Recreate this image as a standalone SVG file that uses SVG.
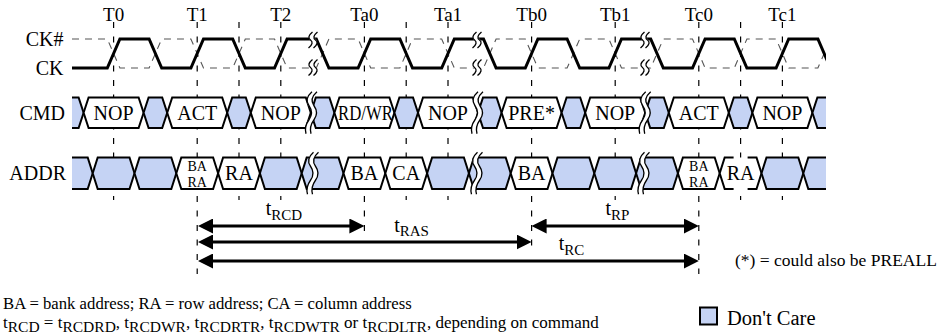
<svg xmlns="http://www.w3.org/2000/svg" xmlns:xlink="http://www.w3.org/1999/xlink" width="941" height="333" viewBox="0 0 941 333">
<style>
text{font-family:"Liberation Serif","Times New Roman",serif;fill:#000}
.lbl{font-size:20px;text-anchor:end}
.tk{font-size:19px;text-anchor:middle}
.bt{font-size:20px;text-anchor:middle}
.st{font-size:14px;text-anchor:middle}
.dc{fill:#c5d3f4;stroke:#000;stroke-width:2}
.vd{fill:#fff;stroke:#000;stroke-width:2}
.grid{stroke:#000;stroke-width:1.2;stroke-dasharray:6 8.5;fill:none}
.bw{fill:none;stroke:#fff;stroke-width:5}
.bk{fill:none;stroke:#000;stroke-width:1.3}
.arr{stroke:#000;stroke-width:3;fill:none;marker-start:url(#ah);marker-end:url(#ah)}
.tl{font-size:20px;text-anchor:middle}
.note{font-size:16.7px}
</style>
<defs>
<clipPath id="clk"><rect x="72" y="0" width="754" height="100"/></clipPath>
<marker id="ah" viewBox="0 0 15 15" refX="7" refY="7.5" markerWidth="15" markerHeight="15" markerUnits="userSpaceOnUse" orient="auto-start-reverse"><path d="M0,0 L15,7.5 L0,15 Z" fill="#000"/></marker>
<path id="wl" d="M3,-21 Q-5,-14 0,-7 T0,7 T-3,21"/>
<path id="ws" d="M2,-8 Q-4,-3 0,0 T-2,8"/>
</defs>

<g id="gridlines">
<line class="grid" x1="113.6" y1="22" x2="113.6" y2="200"/>
<line class="grid" x1="197.2" y1="22" x2="197.2" y2="274"/>
<line class="grid" x1="239" y1="22" x2="239" y2="200"/>
<line class="grid" x1="280.8" y1="22" x2="280.8" y2="200"/>
<line class="grid" x1="364.4" y1="22" x2="364.4" y2="236"/>
<line class="grid" x1="406.2" y1="22" x2="406.2" y2="200"/>
<line class="grid" x1="448" y1="22" x2="448" y2="200"/>
<line class="grid" x1="531.6" y1="22" x2="531.6" y2="254"/>
<line class="grid" x1="615.2" y1="22" x2="615.2" y2="200"/>
<line class="grid" x1="698.8" y1="22" x2="698.8" y2="274"/>
<line class="grid" x1="740.6" y1="22" x2="740.6" y2="200"/>
<line class="grid" x1="782.4" y1="22" x2="782.4" y2="200"/>
</g>

<g id="ticks">
<text class="tk" x="113.6" y="21">T0</text>
<text class="tk" x="197.2" y="21">T1</text>
<text class="tk" x="280.8" y="21">T2</text>
<text class="tk" x="364.4" y="21">Ta0</text>
<text class="tk" x="448" y="21">Ta1</text>
<text class="tk" x="531.6" y="21">Tb0</text>
<text class="tk" x="615.2" y="21">Tb1</text>
<text class="tk" x="698.8" y="21">Tc0</text>
<text class="tk" x="782.4" y="21">Tc1</text>
</g>

<g id="labels">
<text class="lbl" x="63.5" y="46">CK#</text>
<text class="lbl" x="63.5" y="75">CK</text>
<text class="lbl" x="65" y="120">CMD</text>
<text class="lbl" x="66" y="180">ADDR</text>
</g>

<g id="clock" clip-path="url(#clk)">
<path d="M72,39 L107.3,39 L119.9,68 L149.1,68 L161.7,39 L190.9,39 L203.5,68 L232.7,68 L245.3,39 L274.5,39 L287.1,68 L316.3,68 L328.9,39 L358.1,39 L370.7,68 L399.9,68 L412.5,39 L441.7,39 L454.3,68 L483.5,68 L496.1,39 L525.3,39 L537.9,68 L567.1,68 L579.7,39 L608.9,39 L621.5,68 L650.7,68 L663.3,39 L692.5,39 L705.1,68 L734.3,68 L746.9,39 L776.1,39 L788.7,68 L817.9,68 L830.5,39" fill="none" stroke="#555" stroke-width="1.1" stroke-dasharray="7 6"/>
<path d="M72,68 L107.3,68 L119.9,39 L149.1,39 L161.7,68 L190.9,68 L203.5,39 L232.7,39 L245.3,68 L274.5,68 L287.1,39 L316.3,39 L328.9,68 L358.1,68 L370.7,39 L399.9,39 L412.5,68 L441.7,68 L454.3,39 L483.5,39 L496.1,68 L525.3,68 L537.9,39 L567.1,39 L579.7,68 L608.9,68 L621.5,39 L650.7,39 L663.3,68 L692.5,68 L705.1,39 L734.3,39 L746.9,68 L776.1,68 L788.7,39 L817.9,39 L830.5,68" fill="none" stroke="#000" stroke-width="3"/>
</g>

<g id="cmd">
<path class="dc" d="M72,97.5 H78.6 L83.6,112.75 L78.6,128 H72"/>
<path class="vd" d="M83.6,112.75 L88.6,97.5 H138.6 L143.6,112.75 L138.6,128 H88.6 Z"/>
<path class="dc" d="M143.6,112.75 L148.6,97.5 H162.2 L167.2,112.75 L162.2,128 H148.6 Z"/>
<path class="vd" d="M167.2,112.75 L172.2,97.5 H222.2 L227.2,112.75 L222.2,128 H172.2 Z"/>
<path class="dc" d="M227.2,112.75 L232.2,97.5 H245.8 L250.8,112.75 L245.8,128 H232.2 Z"/>
<path class="vd" d="M250.8,112.75 L255.8,97.5 H305.8 L310.8,112.75 L305.8,128 H255.8 Z"/>
<path class="dc" d="M310.8,112.75 L315.8,97.5 H329.4 L334.4,112.75 L329.4,128 H315.8 Z"/>
<path class="vd" d="M334.4,112.75 L339.4,97.5 H389.4 L394.4,112.75 L389.4,128 H339.4 Z"/>
<path class="dc" d="M394.4,112.75 L399.4,97.5 H413 L418,112.75 L413,128 H399.4 Z"/>
<path class="vd" d="M418,112.75 L423,97.5 H473 L478,112.75 L473,128 H423 Z"/>
<path class="dc" d="M478,112.75 L483,97.5 H496.6 L501.6,112.75 L496.6,128 H483 Z"/>
<path class="vd" d="M501.6,112.75 L506.6,97.5 H556.6 L561.6,112.75 L556.6,128 H506.6 Z"/>
<path class="dc" d="M561.6,112.75 L566.6,97.5 H580.2 L585.2,112.75 L580.2,128 H566.6 Z"/>
<path class="vd" d="M585.2,112.75 L590.2,97.5 H640.2 L645.2,112.75 L640.2,128 H590.2 Z"/>
<path class="dc" d="M645.2,112.75 L650.2,97.5 H663.8 L668.8,112.75 L663.8,128 H650.2 Z"/>
<path class="vd" d="M668.8,112.75 L673.8,97.5 H723.8 L728.8,112.75 L723.8,128 H673.8 Z"/>
<path class="dc" d="M728.8,112.75 L733.8,97.5 H747.4 L752.4,112.75 L747.4,128 H733.8 Z"/>
<path class="vd" d="M752.4,112.75 L757.4,97.5 H807.4 L812.4,112.75 L807.4,128 H757.4 Z"/>
<path class="dc" d="M826,97.5 H817.4 L812.4,112.75 L817.4,128 H826"/>
<text class="bt" x="113.6" y="120">NOP</text>
<text class="bt" x="197.2" y="120">ACT</text>
<text class="bt" x="280.8" y="120">NOP</text>
<text class="bt" x="365.5" y="120" textLength="55" lengthAdjust="spacingAndGlyphs">RD/WR</text>
<text class="bt" x="448" y="120">NOP</text>
<text class="bt" x="531.6" y="120">PRE*</text>
<text class="bt" x="615.2" y="120">NOP</text>
<text class="bt" x="698.8" y="120">ACT</text>
<text class="bt" x="782.4" y="120">NOP</text>
</g>

<g id="addr">
<path class="dc" d="M72,157.5 H87.7 L92.7,173.25 L87.7,189 H72"/>
<path class="dc" d="M92.7,173.25 L97.7,157.5 H129.5 L134.5,173.25 L129.5,189 H97.7 Z"/>
<path class="dc" d="M134.5,173.25 L139.5,157.5 H171.3 L176.3,173.25 L171.3,189 H139.5 Z"/>
<path class="vd" d="M176.3,173.25 L181.3,157.5 H213.1 L218.1,173.25 L213.1,189 H181.3 Z"/>
<path class="vd" d="M218.1,173.25 L223.1,157.5 H254.9 L259.9,173.25 L254.9,189 H223.1 Z"/>
<path class="dc" d="M259.9,173.25 L264.9,157.5 H296.7 L301.7,173.25 L296.7,189 H264.9 Z"/>
<path class="dc" d="M301.7,173.25 L306.7,157.5 H338.5 L343.5,173.25 L338.5,189 H306.7 Z"/>
<path class="vd" d="M343.5,173.25 L348.5,157.5 H380.3 L385.3,173.25 L380.3,189 H348.5 Z"/>
<path class="vd" d="M385.3,173.25 L390.3,157.5 H422.1 L427.1,173.25 L422.1,189 H390.3 Z"/>
<path class="dc" d="M427.1,173.25 L432.1,157.5 H463.9 L468.9,173.25 L463.9,189 H432.1 Z"/>
<path class="dc" d="M468.9,173.25 L473.9,157.5 H505.7 L510.7,173.25 L505.7,189 H473.9 Z"/>
<path class="vd" d="M510.7,173.25 L515.7,157.5 H547.5 L552.5,173.25 L547.5,189 H515.7 Z"/>
<path class="dc" d="M552.5,173.25 L557.5,157.5 H589.3 L594.3,173.25 L589.3,189 H557.5 Z"/>
<path class="dc" d="M594.3,173.25 L599.3,157.5 H631.1 L636.1,173.25 L631.1,189 H599.3 Z"/>
<path class="dc" d="M636.1,173.25 L641.1,157.5 H672.9 L677.9,173.25 L672.9,189 H641.1 Z"/>
<path class="vd" d="M677.9,173.25 L682.9,157.5 H714.7 L719.7,173.25 L714.7,189 H682.9 Z"/>
<path d="M740.6,157.5 H756.5 L761.5,173.25 L756.5,189 H724.7 L719.7,173.25 L724.7,157.5 Z" fill="#fff" stroke="#000" stroke-width="2" stroke-dasharray="0 7 50.85 14 50.85 7"/>
<path class="dc" d="M761.5,173.25 L766.5,157.5 H798.3 L803.3,173.25 L798.3,189 H766.5 Z"/>
<path class="dc" d="M826,157.5 H808.3 L803.3,173.25 L808.3,189 H826"/>
<text class="st" x="197.2" y="170.5">BA</text>
<text class="st" x="197.2" y="186.5">RA</text>
<text class="bt" x="239" y="180">RA</text>
<text class="bt" x="364.4" y="180">BA</text>
<text class="bt" x="406.2" y="180">CA</text>
<text class="bt" x="531.6" y="180">BA</text>
<text class="st" x="698.8" y="170.5">BA</text>
<text class="st" x="698.8" y="186.5">RA</text>
<text class="bt" x="740.6" y="180">RA</text>
</g>

<g id="breaks">
<g transform="translate(313,40)"><use xlink:href="#ws" class="bw"/><use xlink:href="#ws" x="-2.5" class="bk"/><use xlink:href="#ws" x="2.5" class="bk"/></g>
<g transform="translate(313,67.5)"><use xlink:href="#ws" class="bw"/><use xlink:href="#ws" x="-2.5" class="bk"/><use xlink:href="#ws" x="2.5" class="bk"/></g>
<g transform="translate(311.5,112.75)"><use xlink:href="#wl" class="bw"/><use xlink:href="#wl" x="-2.5" class="bk"/><use xlink:href="#wl" x="2.5" class="bk"/></g>
<g transform="translate(313,173.25)"><use xlink:href="#wl" class="bw"/><use xlink:href="#wl" x="-2.5" class="bk"/><use xlink:href="#wl" x="2.5" class="bk"/></g>
<g transform="translate(477,40)"><use xlink:href="#ws" class="bw"/><use xlink:href="#ws" x="-2.5" class="bk"/><use xlink:href="#ws" x="2.5" class="bk"/></g>
<g transform="translate(477,67.5)"><use xlink:href="#ws" class="bw"/><use xlink:href="#ws" x="-2.5" class="bk"/><use xlink:href="#ws" x="2.5" class="bk"/></g>
<g transform="translate(477.5,112.75)"><use xlink:href="#wl" class="bw"/><use xlink:href="#wl" x="-2.5" class="bk"/><use xlink:href="#wl" x="2.5" class="bk"/></g>
<g transform="translate(477,173.25)"><use xlink:href="#wl" class="bw"/><use xlink:href="#wl" x="-2.5" class="bk"/><use xlink:href="#wl" x="2.5" class="bk"/></g>
<g transform="translate(645,40)"><use xlink:href="#ws" class="bw"/><use xlink:href="#ws" x="-2.5" class="bk"/><use xlink:href="#ws" x="2.5" class="bk"/></g>
<g transform="translate(645,67.5)"><use xlink:href="#ws" class="bw"/><use xlink:href="#ws" x="-2.5" class="bk"/><use xlink:href="#ws" x="2.5" class="bk"/></g>
<g transform="translate(645.2,112.75)"><use xlink:href="#wl" class="bw"/><use xlink:href="#wl" x="-2.5" class="bk"/><use xlink:href="#wl" x="2.5" class="bk"/></g>
<g transform="translate(644,173.25)"><use xlink:href="#wl" class="bw"/><use xlink:href="#wl" x="-2.5" class="bk"/><use xlink:href="#wl" x="2.5" class="bk"/></g>
</g>

<g id="connectors">
<line class="arr" x1="206" y1="226" x2="356.4" y2="226"/>
<line class="arr" x1="539.6" y1="226" x2="690.8" y2="226"/>
<line class="arr" x1="206" y1="242" x2="523.6" y2="242"/>
<line class="arr" x1="206" y1="261" x2="690.8" y2="261"/>
</g>

<g id="timing-labels">
<text class="tl" x="284" y="215">t<tspan font-size="15" dy="5">RCD</tspan></text>
<text class="tl" x="411.5" y="232">t<tspan font-size="15" dy="4">RAS</tspan></text>
<text class="tl" x="617.5" y="215">t<tspan font-size="15" dy="5">RP</tspan></text>
<text class="tl" x="571.5" y="250">t<tspan font-size="15" dy="5">RC</tspan></text>
</g>

<g id="notes">
<text font-size="17.5" x="735" y="266">(*) = could also be PREALL</text>
<text class="note" x="3" y="309">BA = bank address; RA = row address; CA = column address</text>
<text font-size="17" x="3" y="328">t<tspan font-size="15.5" dy="3.5">RCD</tspan><tspan dy="-3.5"> = t</tspan><tspan font-size="15.5" dy="3.5">RCDRD</tspan><tspan dy="-3.5">, t</tspan><tspan font-size="15.5" dy="3.5">RCDWR</tspan><tspan dy="-3.5">, t</tspan><tspan font-size="15.5" dy="3.5">RCDRTR</tspan><tspan dy="-3.5">, t</tspan><tspan font-size="15.5" dy="3.5">RCDWTR</tspan><tspan dy="-3.5"> or t</tspan><tspan font-size="15.5" dy="3.5">RCDLTR</tspan><tspan dy="-3.5">, depending on command</tspan></text>
</g>

<g id="legend">
<rect x="700" y="307.5" width="17" height="17" fill="#c5d3f4" stroke="#000" stroke-width="2"/>
<text font-size="20.5" x="727" y="324.5">Don't Care</text>
</g>
</svg>
